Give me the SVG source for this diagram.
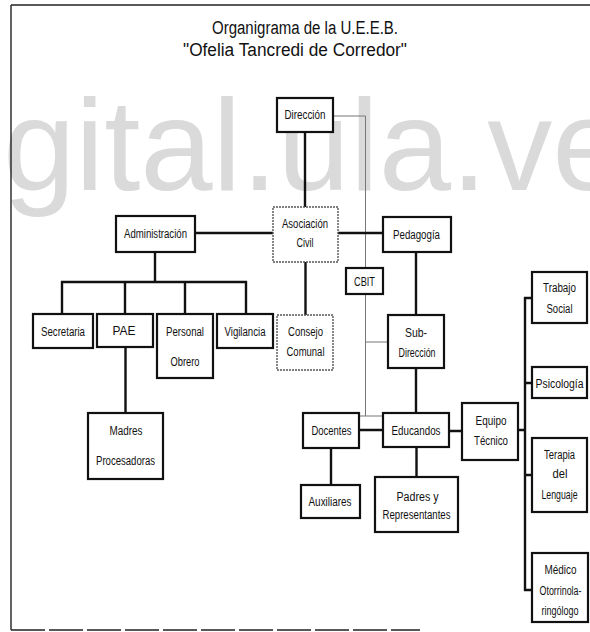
<svg xmlns="http://www.w3.org/2000/svg" width="590" height="632" viewBox="0 0 590 632">
<style>
.bg{fill:#ffffff}
.wm{font-family:"Liberation Sans",Arial,sans-serif;font-size:130px;fill:#dadada}
.title{font-family:"Liberation Sans",Arial,sans-serif;font-size:18px;fill:#111;text-anchor:middle}
.box{fill:#ffffff;stroke:#111;stroke-width:2.2}
.dbox{fill:#ffffff;stroke:#555;stroke-width:1.4;stroke-dasharray:2,1}
.lbl{font-family:"Liberation Sans",Arial,sans-serif;font-size:12px;fill:#111;text-anchor:middle}
.thick{fill:none;stroke:#111;stroke-width:2.4}
.thin{fill:none;stroke:#777;stroke-width:1}
.frame{fill:none;stroke:#222;stroke-width:1.4}
</style>
<rect class="bg" x="0" y="0" width="590" height="632"/>
<text class="wm" x="3" y="190">gital.ula.ve</text>
<g id="frame">
<path class="frame" d="M11,5 H590 M11,5 V630"/>
<path class="frame" d="M11,630 H420" stroke-dasharray="34,4"/>
</g>
<g id="title">
<text class="title" x="305" y="34" textLength="186" lengthAdjust="spacingAndGlyphs">Organigrama de la U.E.E.B.</text>
<text class="title" x="295" y="56" textLength="224" lengthAdjust="spacingAndGlyphs">"Ofelia Tancredi de Corredor"</text>
</g>
<g id="connectors">
<path class="thin" d="M333,116 H365.5 V416 M359,416 H383 M365.5,342 H388"/>
<path class="thick" d="M305,132 V207 M195,233 H273 M338,233 H383 M305.5,262 V315"/>
<path class="thick" d="M155,252 V282 M61,282 H247 M62,281 V314 M125,281 V314 M185,281 V314 M246,281 V314 M125.5,347 V413"/>
<path class="thick" d="M416,252 V315 M416,368 V413 M359,430 H383 M331,448 V485 M416.5,447 V477 M449,431 H462 M518,430 H525 M525,297 V591 M524,298 H532 M524,383 H532 M524,475 H532 M524,590 H532"/>
</g>
<g id="direccion"><rect class="box" x="277" y="98" width="56" height="34" stroke-width="2.6"/><text class="lbl" x="305" y="119" textLength="41" lengthAdjust="spacingAndGlyphs">Dirección</text></g>
<g id="asociacion"><rect class="dbox" x="273" y="207" width="65" height="55"/><text class="lbl" x="305" y="228" textLength="46" lengthAdjust="spacingAndGlyphs">Asociación</text><text class="lbl" x="305" y="247" textLength="17" lengthAdjust="spacingAndGlyphs">Civil</text></g>
<g id="administracion"><rect class="box" x="116" y="216" width="79" height="36"/><text class="lbl" x="155.5" y="237.5" textLength="63" lengthAdjust="spacingAndGlyphs">Administración</text></g>
<g id="pedagogia"><rect class="box" x="383" y="217" width="68" height="35"/><text class="lbl" x="416.5" y="238.5" textLength="47" lengthAdjust="spacingAndGlyphs">Pedagogía</text></g>
<g id="cbit"><rect class="box" x="346" y="268" width="37" height="26"/><text class="lbl" x="364.5" y="285.5" textLength="21" lengthAdjust="spacingAndGlyphs">CBIT</text></g>
<g id="consejo"><rect class="dbox" x="277" y="315" width="56" height="55"/><text class="lbl" x="305.5" y="336" textLength="35" lengthAdjust="spacingAndGlyphs">Consejo</text><text class="lbl" x="305.5" y="356" textLength="38" lengthAdjust="spacingAndGlyphs">Comunal</text></g>
<g id="subdireccion"><rect class="box" x="388" y="315" width="56" height="53"/><text class="lbl" x="416" y="337" textLength="22" lengthAdjust="spacingAndGlyphs">Sub-</text><text class="lbl" x="417" y="357" textLength="37" lengthAdjust="spacingAndGlyphs">Dirección</text></g>
<g id="secretaria"><rect class="box" x="33" y="314" width="60" height="34"/><text class="lbl" x="63" y="335.5" textLength="44" lengthAdjust="spacingAndGlyphs">Secretaria</text></g>
<g id="pae"><rect class="box" x="97" y="314" width="56" height="33"/><text class="lbl" x="124" y="335" textLength="23" lengthAdjust="spacingAndGlyphs">PAE</text></g>
<g id="personal"><rect class="box" x="157" y="314" width="56" height="64"/><text class="lbl" x="185" y="336" textLength="38" lengthAdjust="spacingAndGlyphs">Personal</text><text class="lbl" x="185" y="366" textLength="29" lengthAdjust="spacingAndGlyphs">Obrero</text></g>
<g id="vigilancia"><rect class="box" x="217" y="314" width="56" height="34"/><text class="lbl" x="245" y="335.5" textLength="41" lengthAdjust="spacingAndGlyphs">Vigilancia</text></g>
<g id="madres"><rect class="box" x="88" y="413" width="75" height="66"/><text class="lbl" x="126" y="435" textLength="33" lengthAdjust="spacingAndGlyphs">Madres</text><text class="lbl" x="125.5" y="465" textLength="59" lengthAdjust="spacingAndGlyphs">Procesadoras</text></g>
<g id="docentes"><rect class="box" x="303" y="413" width="56" height="35"/><text class="lbl" x="331.5" y="435" textLength="40" lengthAdjust="spacingAndGlyphs">Docentes</text></g>
<g id="educandos"><rect class="box" x="383" y="413" width="66" height="34"/><text class="lbl" x="416" y="435" textLength="49" lengthAdjust="spacingAndGlyphs">Educandos</text></g>
<g id="equipo"><rect class="box" x="462" y="403" width="56" height="57"/><text class="lbl" x="491" y="425" textLength="31" lengthAdjust="spacingAndGlyphs">Equipo</text><text class="lbl" x="491" y="445" textLength="34" lengthAdjust="spacingAndGlyphs">Técnico</text></g>
<g id="auxiliares"><rect class="box" x="301" y="485" width="59" height="33"/><text class="lbl" x="330" y="506" textLength="43" lengthAdjust="spacingAndGlyphs">Auxiliares</text></g>
<g id="padres"><rect class="box" x="375" y="477" width="83" height="55"/><text class="lbl" x="417.5" y="501" textLength="42" lengthAdjust="spacingAndGlyphs">Padres y</text><text class="lbl" x="416.5" y="519" textLength="68" lengthAdjust="spacingAndGlyphs">Representantes</text></g>
<g id="trabajo"><rect class="box" x="532" y="272" width="55" height="51"/><text class="lbl" x="559.5" y="292" textLength="33" lengthAdjust="spacingAndGlyphs">Trabajo</text><text class="lbl" x="559.5" y="313" textLength="26" lengthAdjust="spacingAndGlyphs">Social</text></g>
<g id="psicologia"><rect class="box" x="532" y="367" width="55" height="31"/><text class="lbl" x="559.5" y="388" textLength="48" lengthAdjust="spacingAndGlyphs">Psicología</text></g>
<g id="terapia"><rect class="box" x="532" y="438" width="55" height="74"/><text class="lbl" x="559.5" y="459" textLength="31" lengthAdjust="spacingAndGlyphs">Terapia</text><text class="lbl" x="560" y="478" textLength="15" lengthAdjust="spacingAndGlyphs">del</text><text class="lbl" x="559.5" y="499" textLength="36" lengthAdjust="spacingAndGlyphs">Lenguaje</text></g>
<g id="medico"><rect class="box" x="532" y="553" width="56" height="69"/><text class="lbl" x="560.5" y="574" textLength="32" lengthAdjust="spacingAndGlyphs">Médico</text><text class="lbl" x="560.5" y="595" textLength="42" lengthAdjust="spacingAndGlyphs">Otorrinola-</text><text class="lbl" x="560" y="615" textLength="37" lengthAdjust="spacingAndGlyphs">ringólogo</text></g>
</svg>
